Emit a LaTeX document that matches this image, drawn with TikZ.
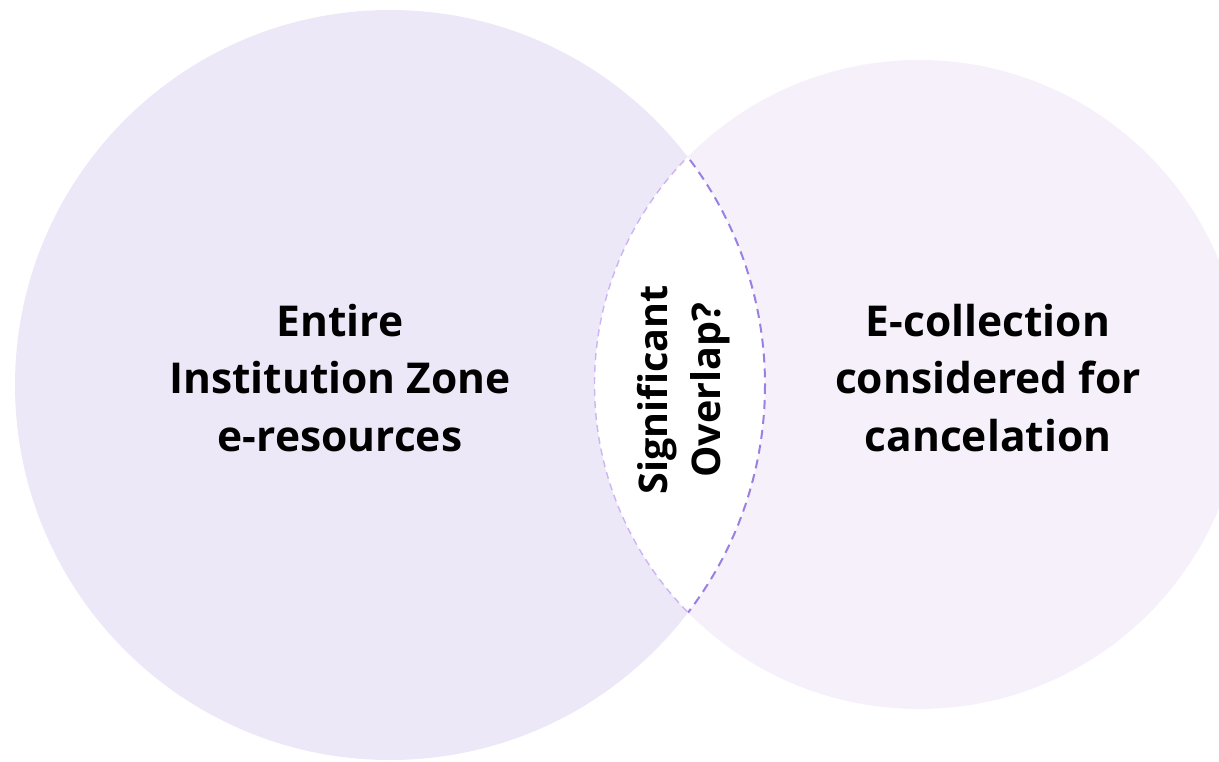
\documentclass[tikz,border=0pt]{standalone}
\usepackage{fontspec}
\setmainfont{Open Sans}[Ligatures=NoCommon]
\definecolor{leftfill}{HTML}{EDE8F8}
\definecolor{rightfill}{HTML}{F5F0FA}
\definecolor{darkdash}{HTML}{9A80E2}
\definecolor{lightdash}{HTML}{CDB4F2}
\tikzset{
  lbl/.style={font=\fontsize{42.5}{57.5}\selectfont\bfseries, align=center, text=black, inner sep=0pt},
  midlbl/.style={font=\fontsize{39.5}{53}\selectfont\bfseries, align=center, text=black, inner sep=0pt, rotate=90},
}
\begin{document}
\begin{tikzpicture}[x=1pt,y=-1pt]
\useasboundingbox (0,0) rectangle (1219,762);
\coordinate (cl) at (390,385);
\coordinate (cr) at (919,384.5);
\def\rl{375}
\def\rr{324.5}
\begin{scope}
\clip (0,0) rectangle (1219,762);
\fill[leftfill] (cl) circle[radius=\rl];
\fill[rightfill] (cr) circle[radius=\rr];
\begin{scope}
\clip (cl) circle[radius=\rl];
\fill[white] (cr) circle[radius=\rr];
\draw[lightdash, line width=1.4pt, dash pattern=on 7pt off 5pt] (cr) circle[radius=\rr];
\end{scope}
\begin{scope}
\clip (cr) circle[radius=\rr];
\draw[darkdash, line width=2pt, dash pattern=on 9pt off 6pt] (cl) circle[radius=\rl];
\end{scope}
\end{scope}
\node[lbl] (lefttext) at (340,378) {Entire\\Institution Zone\\e-resources};
\node[lbl] (righttext) at (988,378) {E-collection\\considered for\\cancelation};
\node[midlbl] (midtext) at (684,390) {Significant\\Overlap?};
\end{tikzpicture}
\end{document}
